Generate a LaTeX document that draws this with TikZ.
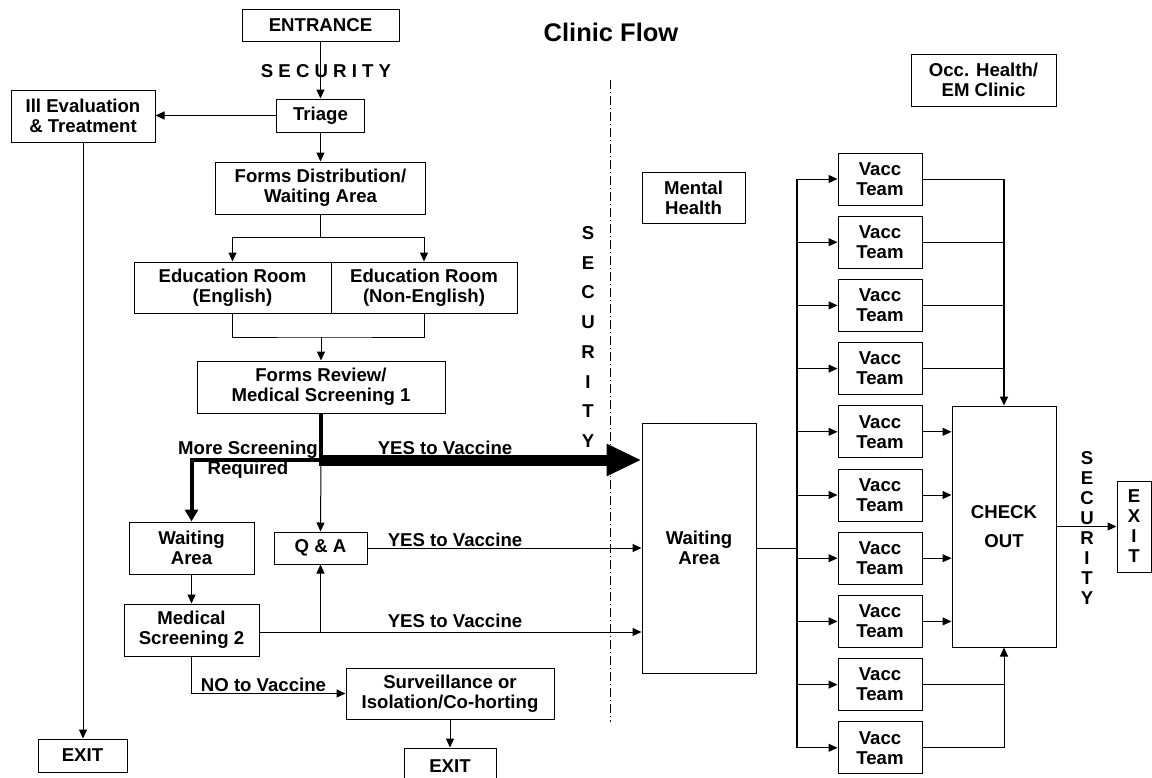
\documentclass[tikz,border=0pt]{standalone}
\usepackage{fontspec}
\setmainfont{Liberation Sans}
\usetikzlibrary{arrows.meta}
\begin{document}
\begin{tikzpicture}[x=1pt,y=-1pt,
  every node/.style={font=\fontsize{18.6}{20}\selectfont\bfseries},
  box/.style={draw,line width=1pt,inner sep=0pt,align=center},
  sz/.style 2 args={minimum width=#1pt,minimum height=#2pt},
  lbl/.style={inner sep=0pt,align=center},
  ln/.style={line width=1pt},
  arr/.style={line width=1pt,-{Triangle[length=9pt,width=8pt]}},
  thickarr/.style={line width=4pt,-{Triangle[length=12pt,width=13pt]}},
  bigarr/.style={line width=11pt,-{Triangle[length=35pt,width=30pt]}},
  busline/.style={line width=1.6pt},
  dashdot/.style={line width=0.8pt,dash pattern=on 9pt off 3pt on 1pt off 3pt}]
\useasboundingbox (0,0) rectangle (1152,777);
\clip (0,0) rectangle (1152,777);

% boxes
\node[box,sz={157}{32}] (entrance) at (320.5,25) {ENTRANCE};
\node[box,sz={88}{33}] (triage) at (320.5,115.5) {Triage};
\node[box,sz={144}{52}] (ill) at (83,116) {Ill Evaluation\\\& Treatment};
\node[box,sz={210}{52}] (fdist) at (320.5,188) {Forms Distribution/\\Waiting Area};
\node[box,sz={197}{51}] (eduE) at (232.5,287.5) {Education Room\\(English)};
\node[box,sz={186}{51}] (eduN) at (424,287.5) {Education Room\\(Non-English)};
\node[box,sz={248}{52}] (frev) at (321,387) {Forms Review/\\Medical Screening 1};
\node[box,sz={125}{52}] (wait1) at (191.5,548) {Waiting\\Area};
\node[box,sz={93}{32}] (qa) at (320.5,548) {Q \& A};
\node[box,sz={135}{52}] (med2) at (191.5,630) {Medical\\Screening 2};
\node[box,sz={208}{51}] (surv) at (450,693.5) {Surveillance or\\Isolation/Co-horting};
\node[box,sz={92}{36}] (exit2) at (450,766) {EXIT};
\node[box,sz={89}{33}] (exit1) at (82.5,755.5) {EXIT};
\node[box,sz={103}{51}] (mental) at (693.5,197.5) {Mental\\Health};
\node[box,sz={145}{52}] (occ) at (983.5,80) {Occ. Health/\\EM Clinic};
\node[box,sz={114}{250}] (waitR) at (699,548) {Waiting\\Area};
\foreach \i in {0,...,9}
  \node[box,sz={84}{52}] (v\i) at (880,{179+63.2*\i}) {Vacc\\Team};
\node[box,sz={104}{241}] (check) at (1004,526.5) {CHECK\\[9pt]OUT};
\node[box,sz={34}{91}] (exitR) at (1134,526.5) {E\\X\\I\\T};

% labels
\node[lbl,font=\fontsize{25.5}{28}\selectfont\bfseries] (title) at (611,32) {Clinic Flow};
\node[lbl] (sec1) at (326,71) {S E C U R I T Y};
\node[lbl,font=\fontsize{18.6}{29.7}\selectfont\bfseries] (sec2) at (588,337) {S\\E\\C\\U\\R\\I\\T\\Y};
\node[lbl] (sec3) at (1087,527.5) {S\\E\\C\\U\\R\\I\\T\\Y};
\node[lbl] (ms) at (248,460) {More Screening\\Required};
\node[lbl] (yes1) at (445,448) {YES to Vaccine};
\node[lbl] (yes2) at (455,539.5) {YES to Vaccine};
\node[lbl] (yes3) at (455,620.5) {YES to Vaccine};
\node[lbl] (no) at (263.5,684.5) {NO to Vaccine};

% security line
\coordinate (d1) at (610,80);
\coordinate (d2) at (610,722);
\draw[dashdot] (d1) -- (d2);

% connectors left part
\draw[arr] (entrance.south) -- (triage.north);
\draw[arr] (triage.west) -- (triage.west -| ill.east);
\draw[arr] (ill.south) -- (ill.south |- exit1.north);
\draw[arr] (triage.south) -- (fdist.north);
\coordinate (j1) at (320.5,237);
\draw[ln] (fdist.south) -- (j1);
\draw[arr] (j1) -| (eduE.north);
\draw[arr] (j1) -| (eduN.north);
\coordinate (j2) at (321,337);
\draw[ln] (eduE.south) |- (j2) -| (eduN.south);
\draw[arr] (j2) -- (frev.north);
\coordinate (j3) at (321,460);
\draw[arr] (j3) -- (qa.north);
\draw[thickarr] (frev.south) -- (j3) -| (wait1.north);
\draw[bigarr] ([xshift=-2pt]j3) -- (j3 -| waitR.west);
\draw[arr] (qa.east) -- (qa.east -| waitR.west);
\draw[arr] (wait1.south) -- (med2.north);
\coordinate (j4) at (320.5,632);
\draw[arr] (med2.east |- j4) -- (j4 -| waitR.west);
\draw[arr] (j4) -- (qa.south);
\draw[arr] (med2.south) |- (surv.west);
\draw[arr] (surv.south) -- (exit2.north);

% connectors right part
\coordinate (bt) at (797,179);
\coordinate (bb) at (797,748);
\draw[ln] (waitR.east) -- (waitR.east -| bt);
\draw[busline] (bt) -- (bb);
\foreach \i in {0,...,9}
  \draw[arr] (v\i.west -| bt) -- (v\i.west);
\coordinate (ct) at (1004,179);
\coordinate (cb) at (1004,748);
\foreach \i in {0,...,3}
  \draw[ln] (v\i.east) -- (v\i.east -| ct);
\draw[busline,-{Triangle[length=9pt,width=8pt]}] (ct) -- (check.north);
\foreach \i in {4,...,7}
  \draw[arr] (v\i.east) -- (v\i.east -| check.west);
\foreach \i in {8,9}
  \draw[ln] (v\i.east) -- (v\i.east -| cb);
\draw[arr] (cb) -- (check.south);
\draw[arr] (check.east) -- (exitR.west);
\end{tikzpicture}
\end{document}
